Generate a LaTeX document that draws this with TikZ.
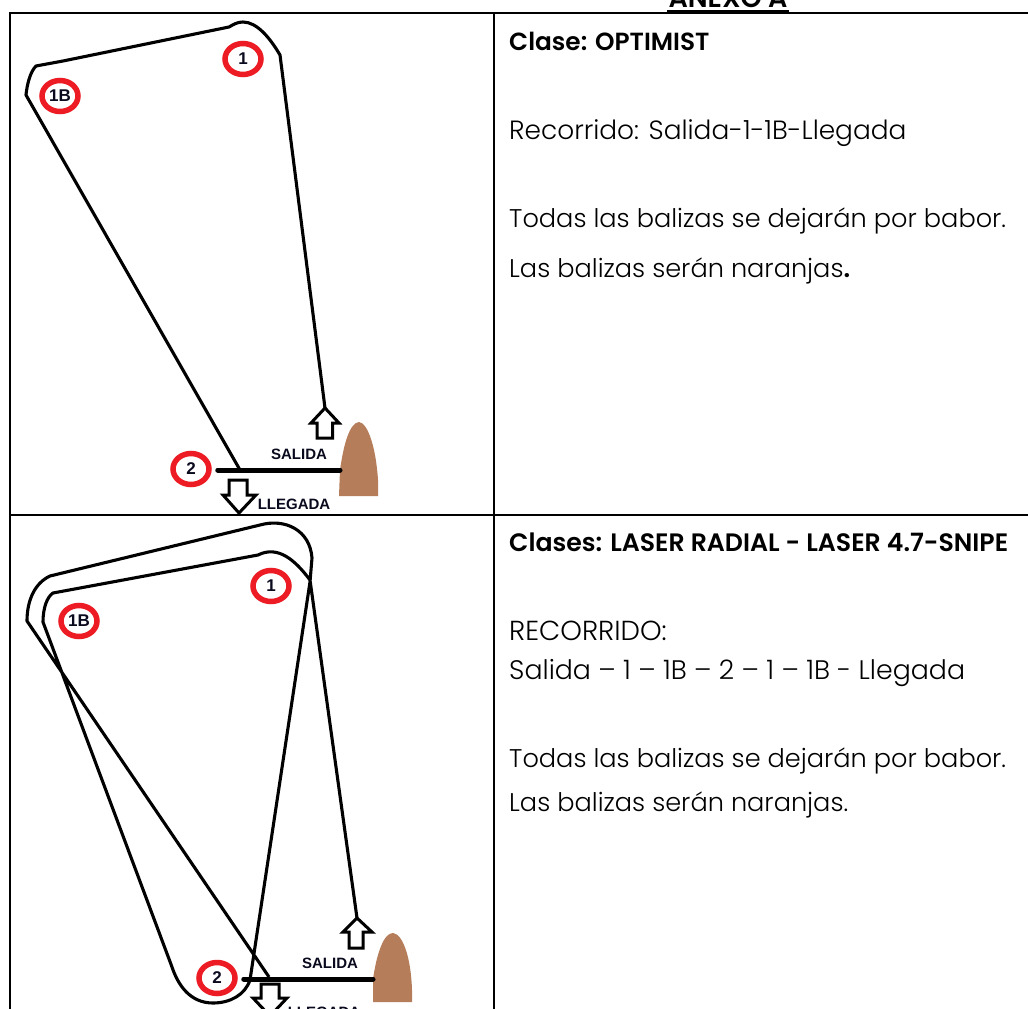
\documentclass[tikz,border=0pt]{standalone}
\usepackage{fontspec}
\usetikzlibrary{shapes.geometric}
\setmainfont{Liberation Sans}
\newfontfamily\bodyfont{Poppins Light}[BoldFont=Poppins SemiBold]
\definecolor{mred}{HTML}{ED1C24}
\definecolor{land}{HTML}{B57D5A}
\definecolor{lab}{HTML}{0A0A1E}
\tikzset{
  x=1pt,y=-1pt,
  grid/.style={line width=2pt,black},
  course/.style={line width=3.1pt,black,line join=round},
  startline/.style={line width=5pt,black,line cap=round},
  flow/.style={line width=3pt,black,fill=white,line join=miter},
  buoy/.style={ellipse,draw=mred,line width=5.5pt,fill=white,minimum width=36pt,minimum height=31pt,inner sep=0pt,font=\fontsize{17}{17}\selectfont\bfseries,text=lab},
  tag/.style={inner sep=0pt,font=\fontsize{15}{15}\selectfont\bfseries,text=lab},
  body/.style={anchor=base west,inner sep=0pt,font=\bodyfont\fontsize{25.6}{28}\selectfont,text=black},
  head/.style={anchor=base west,inner sep=0pt,font=\bodyfont\fontsize{25.2}{28}\selectfont\bfseries,text=black},
  land shape/.style={fill=land,draw=none}
}
\begin{document}
\begin{tikzpicture}
\useasboundingbox (0,0) rectangle (1028,1009);
\clip (0,0) rectangle (1028,1009);
\fill[white] (0,0) rectangle (1028,1009);
% title
\node[anchor=base,inner sep=0pt,font=\bodyfont\fontsize{27}{28}\selectfont\bfseries] (title) at (728,8) {ANEXO A};
\draw[line width=2pt] (667,11) -- (789,11);
% table
\draw[grid] (9,13) -- (1028,13);
\draw[grid] (9,515) -- (1028,515);
\draw[grid] (10,13) -- (10,1009);
\draw[grid] (494,13) -- (494,1009);
% right column, top
\node[head,font=\bodyfont\fontsize{24.8}{28}\selectfont\bfseries] (t1) at (509,50) {Clase: OPTIMIST};
\node[body,font=\bodyfont\fontsize{26.4}{28}\selectfont] (t2) at (509,139) {Recorrido: Salida-1-1B-Llegada};
\node[body] (t3) at (509,227) {Todas las balizas se dejarán por babor.};
\node[body] (t4) at (509,277) {Las balizas serán naranjas\textbf{.}};
% right column, bottom
\node[head] (t5) at (509,551) {Clases: LASER RADIAL - LASER 4.7-SNIPE};
\node[body,font=\bodyfont\fontsize{27.5}{28}\selectfont] (t6) at (509,640) {RECORRIDO:};
\node[body,font=\bodyfont\fontsize{26.8}{28}\selectfont] (t7) at (509,679) {Salida – 1 – 1B – 2 – 1 – 1B - Llegada};
\node[body] (t8) at (509,767) {Todas las balizas se dejarán por babor.};
\node[body] (t9) at (509,811) {Las balizas serán naranjas.};
% ---- diagram 1
\path[land shape] (339,496) -- (340,470) .. controls (344,442) and (350,423) .. (359,422)
  .. controls (368,423) and (376,448) .. (378,480) -- (378,496) -- cycle;
\draw[course] (325,408) -- (280,55) .. controls (270,38) and (257,22) .. (243,22)
  .. controls (238,22) and (234,24) .. (229,27) -- (63,61) -- (36,66)
  .. controls (30,72) and (27,85) .. (26,95) -- (240,470);
\node[buoy] (a1) at (243,59) {1};
\node[buoy] (a1b) at (60,96) {1B};
\node[buoy] (a2) at (191,469) {2};
\coordinate (aland) at (340,470);
\draw[startline] (a2.east) ++(6,1) -- (aland);
\draw[flow] (325,408) -- (339,423) -- (332.5,423) -- (332.5,438) -- (317,438) -- (317,423) -- (311,423) -- cycle;
\draw[flow] (239,513) -- (256,495) -- (247,495) -- (247,480) -- (229,480) -- (229,495) -- (223,495) -- cycle;
\node[tag] (as) at (299,454) {SALIDA};
\node[tag] (al) at (294,504) {LLEGADA};
% ---- diagram 2
\path[land shape] (373,1002) -- (373,979) .. controls (377,952) and (384,933) .. (393,933)
  .. controls (403,934) and (411,958) .. (412,990) -- (412,1002) -- cycle;
\draw[course] (269,977) -- (27,621) .. controls (27,600) and (35,583) .. (50,576)
  -- (260,525) .. controls (285,518) and (310,530) .. (312,558)
  -- (310,582) -- (250,980) .. controls (245,995) and (230,1003) .. (213,1003)
  .. controls (190,1003) and (178,985) .. (172,967) -- (43,622)
  .. controls (43,608) and (47,597) .. (53,593) -- (258,555)
  .. controls (278,545) and (295,560) .. (310,580) -- (357,918);
\node[buoy] (b1) at (271,586) {1};
\node[buoy] (b1b) at (79,621) {1B};
\node[buoy] (b2) at (217,978) {2};
\coordinate (bland) at (373,979);
\draw[startline] (b2.east) ++(6,1) -- (bland);
\draw[flow] (357,918) -- (372,932) -- (363,932) -- (363,948) -- (349,948) -- (349,932) -- (343,932) -- cycle;
\draw[flow] (270,1016) -- (287,998) -- (279,998) -- (279,984) -- (261,984) -- (261,998) -- (253,998) -- cycle;
\node[tag] (bs) at (330,963) {SALIDA};
\node[tag] (bl) at (324,1012) {LLEGADA};
\end{tikzpicture}
\end{document}
